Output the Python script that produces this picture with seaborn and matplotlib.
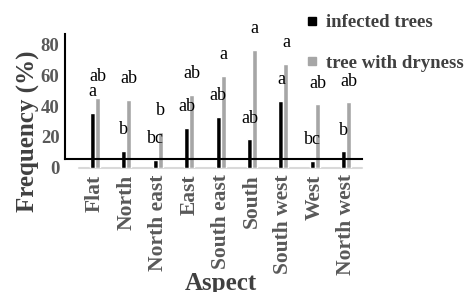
import pandas as pd
import seaborn as sns
import matplotlib.pyplot as plt
from matplotlib.lines import Line2D

# data
aspects = ['Flat', 'North', 'North east', 'East', 'South east',
           'South', 'South west', 'West', 'North west']
infected = [35.8, 11.0, 5.0, 26.0, 33.2, 18.3, 43.5, 4.4, 10.5]
dryness = [45.6, 44.3, 23.4, 47.4, 59.8, 76.8, 67.6, 41.2, 42.6]
infected_letters = ['a', 'b', 'bc', 'ab', 'ab', 'ab', 'a', 'bc', 'b']
dryness_letters = ['ab', 'ab', 'b', 'ab', 'a', 'a', 'a', 'ab', 'ab']
series_names = ['infected trees', 'tree with dryness']
colors = ['#000000', '#a6a6a6']

df = pd.DataFrame({
    'Aspect': aspects * 2,
    'Frequency': infected + dryness,
    'Series': [series_names[0]] * len(aspects) + [series_names[1]] * len(aspects),
})

sns.set_style('white')
serif = ['Liberation Serif', 'DejaVu Serif']
plt.rcParams['font.family'] = serif

fig = plt.figure(figsize=(4.73, 2.92), dpi=100)
ax = fig.add_axes([65 / 473, (292 - 167.5) / 292, 297 / 473, 133.5 / 292])

sns.barplot(data=df, x='Aspect', y='Frequency', hue='Series', order=aspects,
            hue_order=series_names, palette=dict(zip(series_names, colors)),
            width=0.32, gap=0, saturation=1, legend=False, ax=ax)

# significance letters above each bar
for cont, letters in zip(ax.containers, [infected_letters, dryness_letters]):
    ax.bar_label(cont, labels=letters, padding=9, fontsize=13, color='black',
                 family=serif)

ax.set_ylim(0, 87)
ax.set_xlim(-0.955, 8.5)
ax.set_yticks([0, 20, 40, 60, 80])

# axis lines as in the original
for s in ['top', 'right']:
    ax.spines[s].set_visible(False)
ax.spines['left'].set_bounds(5.4, 87)
ax.spines['left'].set_color('black')
ax.spines['left'].set_linewidth(1.5)
ax.spines['bottom'].set_position(('data', 5.4))
ax.spines['bottom'].set_color('black')
ax.spines['bottom'].set_linewidth(1.5)
ax.axhline(0, xmin=0.047, xmax=1, color='#d9d9d9', lw=1.5, zorder=0.5,
           clip_on=False)

ax.tick_params(axis='x', length=0, pad=11, labelsize=15.5, labelcolor='#595959',
               labelrotation=90)
ax.tick_params(axis='y', length=0, pad=4, labelsize=13.5, labelcolor='#595959')
for lab in ax.get_xticklabels() + ax.get_yticklabels():
    lab.set_fontweight('bold')
    lab.set_family(serif)
for lab in ax.get_xticklabels():
    lab.set_va('top')

ax.set_ylabel('Frequency (%)', fontsize=18, fontweight='bold', color='#404040',
              family=serif)
ax.yaxis.set_label_coords(-0.085, 0.27)
ax.set_xlabel('Aspect', fontsize=18, fontweight='bold', color='#404040',
              family=serif)
ax.xaxis.set_label_coords(0.525, -0.785)

handles = [Line2D([], [], marker='s', linestyle='none', markersize=6,
                  markerfacecolor=c, markeredgecolor=c) for c in colors]
leg = ax.legend(handles, series_names, loc='upper left', frameon=False,
                bbox_to_anchor=(306 / 473, (292 - 14) / 292),
                bbox_transform=fig.transFigure,
                prop={'family': serif, 'size': 13.5, 'weight': 'bold'},
                handlelength=0.6, handletextpad=0.45, labelspacing=1.25,
                borderpad=0, borderaxespad=0)
for t in leg.get_texts():
    t.set_color('#404040')

fig.savefig('out.png', dpi=100)
